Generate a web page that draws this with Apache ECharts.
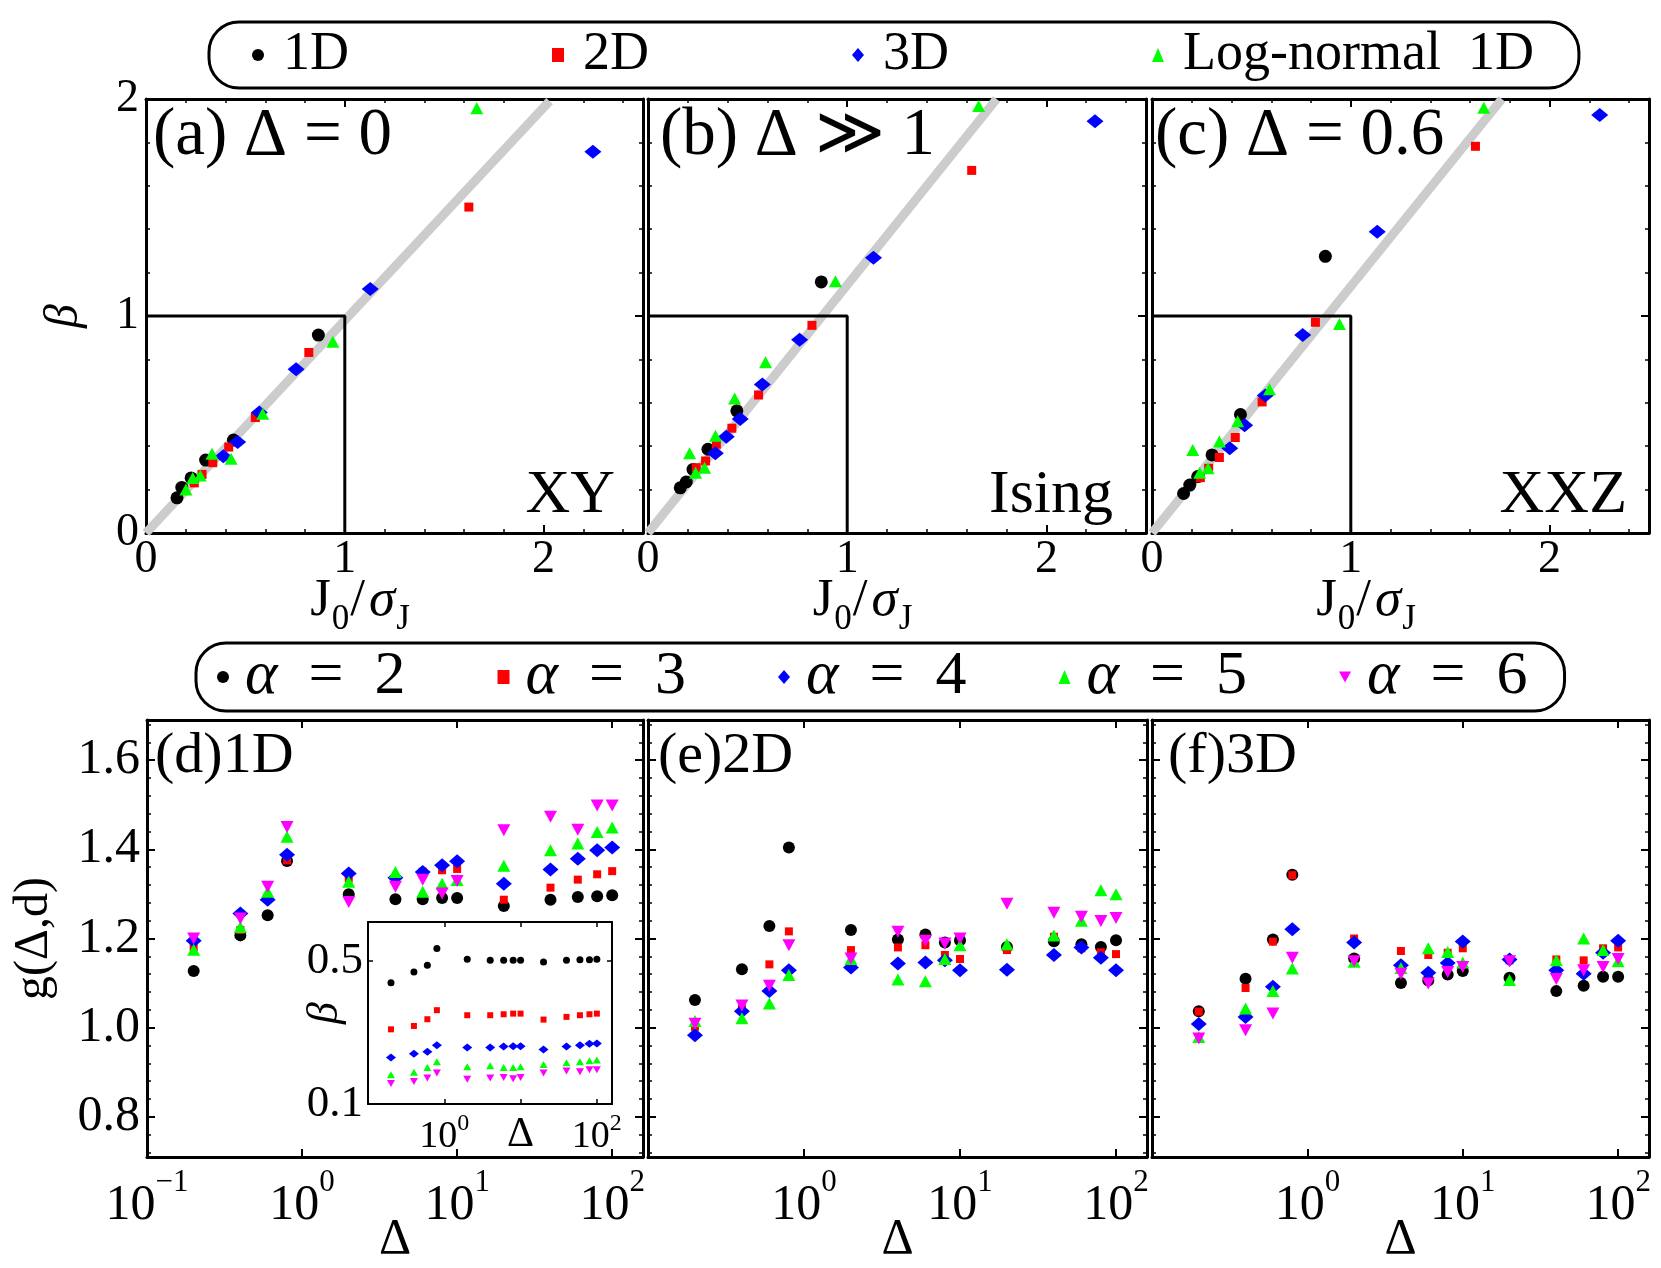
<!DOCTYPE html>
<html>
<head>
<meta charset="utf-8">
<script src="https://cdn.jsdelivr.net/npm/echarts@6/dist/echarts.min.js"></script>
<style>
  html, body { margin: 0; padding: 0; background: #fff; }
  #chart { width: 1661px; height: 1268px; }
</style>
</head>
<body>
<div id="chart"></div>
<script>
const SERIF = 'Liberation Serif, DejaVu Serif, serif';

// ---- top row: beta vs J0/sigma_J, [x, y]
const a1D = [[0.156,0.162],[0.18,0.21],[0.227,0.254],[0.30,0.336],[0.44,0.428],[0.867,0.912]];
const a2D = [[0.243,0.231],[0.282,0.27],[0.336,0.324],[0.416,0.396],[0.55,0.532],[0.819,0.832],[1.624,1.502]];
const a3D = [[0.389,0.354],[0.461,0.419],[0.570,0.555],[0.755,0.755],[1.128,1.125],[2.248,1.757]];
const aLN = [[0.201,0.2],[0.235,0.254],[0.273,0.265],[0.332,0.365],[0.428,0.342],[0.587,0.55],[0.94,0.881],[1.664,1.957]];

const b1D = [[0.162,0.208],[0.192,0.235],[0.226,0.293],[0.301,0.386],[0.446,0.563],[0.87,1.157]];
const b2D = [[0.242,0.301],[0.289,0.332],[0.343,0.409],[0.421,0.483],[0.555,0.636],[0.823,0.957],[1.625,1.671]];
const b3D = [[0.338,0.367],[0.393,0.443],[0.463,0.525],[0.574,0.684],[0.761,0.89],[1.132,1.269],[2.244,1.898]];
const bLN = [[0.209,0.367],[0.239,0.278],[0.284,0.301],[0.339,0.448],[0.435,0.62],[0.59,0.787],[0.941,1.16],[1.66,1.968]];

const c1D = [[0.159,0.182],[0.19,0.221],[0.23,0.26],[0.302,0.36],[0.445,0.546],[0.872,1.275]];
const c2D = [[0.243,0.255],[0.285,0.298],[0.339,0.348],[0.419,0.44],[0.554,0.604],[0.822,0.971],[1.627,1.782]];
const c3D = [[0.391,0.391],[0.466,0.496],[0.57,0.634],[0.758,0.913],[1.133,1.388],[2.252,1.926]];
const cLN = [[0.205,0.383],[0.24,0.278],[0.282,0.298],[0.339,0.422],[0.431,0.515],[0.591,0.662],[0.943,0.963],[1.669,1.96]];

// grey guide lines and the unit box
const diagA = [[0,0],[2.03,1.99]];
const diagB = [[0,0],[1.75,2]];
const diagC = [[0,0],[1.76,2]];
const unitBox = [[0,1],[1,1],[1,0]];

// ---- bottom row: g(Delta,d) for alpha = 2..6
const deltas = [0.2,0.4,0.6,0.8,2,4,6,8,10,20,40,60,80,100];

const d2 = [1.127,1.207,1.252,1.374,1.299,1.288,1.288,1.291,1.291,1.273,1.287,1.293,1.295,1.297];
const d3 = [1.181,1.219,1.29,1.375,1.335,1.33,1.35,1.353,1.356,1.287,1.314,1.332,1.344,1.351];
const d4 = [1.195,1.256,1.287,1.388,1.346,1.336,1.349,1.364,1.373,1.323,1.355,1.379,1.398,1.404];
const d5 = [1.175,1.226,1.305,1.428,1.327,1.349,1.305,1.323,1.331,1.363,1.398,1.413,1.439,1.449];
const d6 = [1.2,1.245,1.316,1.45,1.282,1.316,1.332,1.301,1.329,1.443,1.473,1.444,1.498,1.498];

const e2 = [1.062,1.131,1.228,1.404,1.219,1.198,1.209,1.191,1.196,1.181,1.194,1.187,1.181,1.196];
const e3 = [1.002,1.043,1.142,1.216,1.174,1.18,1.185,1.163,1.154,1.174,1.204,1.178,1.169,1.165];
const e4 = [0.983,1.037,1.082,1.129,1.135,1.144,1.146,1.151,1.129,1.13,1.163,1.18,1.157,1.129];
const e5 = [1.015,1.021,1.054,1.118,1.154,1.108,1.104,1.154,1.185,1.187,1.207,1.24,1.308,1.299];
const e6 = [1.009,1.05,1.094,1.185,1.155,1.215,1.195,1.189,1.2,1.278,1.258,1.249,1.239,1.246];

const f2 = [1.037,1.11,1.198,1.343,1.155,1.1,1.106,1.119,1.127,1.112,1.082,1.094,1.114,1.114];
const f3 = [1.036,1.089,1.193,1.342,1.2,1.172,1.163,1.168,1.178,1.151,1.153,1.151,1.178,1.18];
const f4 = [1.008,1.024,1.092,1.221,1.191,1.14,1.123,1.145,1.193,1.153,1.129,1.121,1.168,1.195];
const f5 = [0.979,1.043,1.082,1.133,1.148,1.134,1.178,1.17,1.146,1.107,1.151,1.2,1.174,1.149];
const f6 = [0.976,0.994,1.032,1.157,1.149,1.121,1.099,1.125,1.136,1.149,1.109,1.129,1.136,1.154];

// inset of (d): beta vs Delta, log scale
const in2 = [0.392,0.443,0.478,0.577,0.511,0.506,0.506,0.506,0.506,0.496,0.506,0.509,0.509,0.511];
const in3 = [0.232,0.241,0.260,0.288,0.272,0.272,0.275,0.277,0.277,0.259,0.267,0.272,0.275,0.277];
const in4 = [0.169,0.176,0.180,0.194,0.189,0.189,0.191,0.192,0.192,0.185,0.191,0.194,0.197,0.198];
const in5 = [0.139,0.143,0.151,0.161,0.152,0.154,0.151,0.151,0.152,0.156,0.159,0.161,0.163,0.164];
const in6 = [0.126,0.129,0.134,0.142,0.132,0.134,0.135,0.133,0.135,0.142,0.145,0.144,0.147,0.147];

const topNames = ['1D', '2D', '3D', 'Log-normal  1D'];
const alphaNames = ['α = 2', 'α = 3', 'α = 4', 'α = 5', 'α = 6'];
const xTicksTop = [0, 1, 2];

const DOWN = 'path://M0,0L10,0L5,9Z';
const topMarks = [
  { symbol: 'circle', size: 13, color: '#000000' },
  { symbol: 'rect', size: 9, color: '#ff0000' },
  { symbol: 'diamond', size: [17, 14], color: '#0000ff' },
  { symbol: 'triangle', size: [13, 12], color: '#00ff00' }
];
const lowMarks = [
  { symbol: 'circle', size: 12, color: '#000000' },
  { symbol: 'rect', size: 8, color: '#ff0000' },
  { symbol: 'diamond', size: [16, 14], color: '#0000ff' },
  { symbol: 'triangle', size: [13, 12], color: '#00ff00' },
  { symbol: DOWN, size: [13, 12], color: '#ff00ff' }
];
const insetMarks = [
  { symbol: 'circle', size: 7, color: '#000000' },
  { symbol: 'rect', size: 6, color: '#ff0000' },
  { symbol: 'diamond', size: [10, 8], color: '#0000ff' },
  { symbol: 'triangle', size: [8, 7], color: '#00ff00' },
  { symbol: DOWN, size: [8, 7], color: '#ff00ff' }
];

const grids = [
  { left: 146, top: 99, width: 497, height: 434 },
  { left: 648, top: 99, width: 498, height: 434 },
  { left: 1152, top: 99, width: 497, height: 434 },
  { left: 147, top: 720, width: 496, height: 437 },
  { left: 648, top: 720, width: 499, height: 437 },
  { left: 1152, top: 720, width: 497, height: 437 },
  { left: 368, top: 922, width: 244, height: 182, show: true, backgroundColor: '#fff', borderWidth: 0 }
].map(g => Object.assign({ outerBoundsMode: 'none', containLabel: false }, g));

function tick(len, w) {
  return { show: true, inside: true, length: len, lineStyle: { color: '#000', width: w } };
}
function minor(len) {
  return { show: true, splitNumber: 5, length: len, lineStyle: { color: '#000', width: 1.5 } };
}

const xAxes = [];
const yAxes = [];
// every panel is framed: bottom/top x axes and left/right y axes sharing one scale
function frame(gi, xBase, yBase, lw) {
  const line = { show: true, onZero: false, lineStyle: { color: '#000', width: lw } };
  const common = { gridIndex: gi, axisLine: line, splitLine: { show: false }, nameMoveOverlap: false };
  xAxes.push(Object.assign({ position: 'bottom' }, common, xBase));
  xAxes.push(Object.assign({ position: 'top' }, common, xBase, { axisLabel: { show: false }, name: '' }));
  yAxes.push(Object.assign({ position: 'left' }, common, yBase));
  yAxes.push(Object.assign({ position: 'right' }, common, yBase, { axisLabel: { show: false }, name: '' }));
}

const labelFont = { fontFamily: SERIF, color: '#000' };
const jRich = {
  n: { fontSize: 53, fontFamily: SERIF, color: '#000', lineHeight: 62, verticalAlign: 'top', padding: [0, 1, 0, 1] },
  i: { fontSize: 53, fontFamily: SERIF, fontStyle: 'italic', color: '#000', lineHeight: 62, verticalAlign: 'top', padding: [0, 1, 0, 3] },
  s: { fontSize: 35, fontFamily: SERIF, color: '#000', lineHeight: 40, verticalAlign: 'bottom' }
};
const powRich = {
  b: { fontSize: 50, fontFamily: SERIF, color: '#000', lineHeight: 64, verticalAlign: 'bottom' },
  s: { fontSize: 31, fontFamily: SERIF, color: '#000', lineHeight: 30, verticalAlign: 'top' }
};
const insetRich = {
  b: { fontSize: 38, fontFamily: SERIF, color: '#000', lineHeight: 44, verticalAlign: 'bottom' },
  s: { fontSize: 24, fontFamily: SERIF, color: '#000', lineHeight: 22, verticalAlign: 'top' },
  d: { fontSize: 42, fontFamily: SERIF, color: '#000', lineHeight: 44, verticalAlign: 'bottom' }
};

function powLabel(v, showMin) {
  const e = Math.log10(v);
  const r = Math.round(e);
  if (Math.abs(e - r) > 1e-3) return '';
  if (!showMin && r === -1) return '';
  return '{b|10}{s|' + (r < 0 ? '\u2212' + (-r) : r) + '}';
}

// top row
for (let p = 0; p < 3; p++) {
  frame(p, {
    type: 'value', min: 0, max: 2.5, interval: 1,
    axisTick: tick(8, 2), minorTick: minor(4),
    axisLabel: Object.assign({ show: true, margin: 4, fontSize: 46,
      formatter: v => xTicksTop.indexOf(Math.round(v * 1000) / 1000) >= 0 ? String(v) : '' }, labelFont),
    name: '{n|J}{s|0}{n|/}{i|σ}{s|J}', nameLocation: 'middle', nameGap: 42,
    nameTextStyle: { padding: [0, 70, 0, 0], rich: jRich }
  }, {
    type: 'value', min: 0, max: 2, interval: 1,
    axisTick: tick(8, 2), minorTick: minor(4),
    axisLabel: Object.assign({ show: p === 0, margin: 7, fontSize: 46 }, labelFont),
    name: p === 0 ? 'β' : '', nameLocation: 'middle', nameGap: 58,
    nameTextStyle: { fontSize: 48, fontStyle: 'italic', fontFamily: SERIF, color: '#000' }
  }, 3);
}
// bottom row
for (let p = 0; p < 3; p++) {
  const gi = p + 3;
  frame(gi, {
    type: 'log', logBase: 10, min: 0.1, max: 158,
    axisTick: tick(8, 2),
    axisLabel: { show: true, margin: 10, formatter: v => powLabel(v, p === 0), rich: powRich },
    name: 'Δ', nameLocation: 'middle', nameGap: 58,
    nameTextStyle: { fontSize: 50, fontFamily: SERIF, color: '#000' }
  }, {
    type: 'value', min: 0.71, max: 1.69, splitNumber: 5,
    axisTick: tick(8, 2), minorTick: minor(4),
    axisLabel: Object.assign({ show: p === 0, margin: 7, fontSize: 50,
      formatter: v => Math.abs(v * 5 - Math.round(v * 5)) < 1e-6 ? v.toFixed(1) : '' }, labelFont),
    name: p === 0 ? 'g(Δ,d)' : '', nameLocation: 'middle', nameGap: 89,
    nameTextStyle: { fontSize: 48, fontFamily: SERIF, color: '#000' }
  }, 3);
}
// inset: y axis is log10(beta / 0.1) on a linear scale so that 0.1 and 0.5 can be labelled
const LOG5 = Math.log10(5);
frame(6, {
  type: 'log', logBase: 10, min: 0.1, max: 158,
  axisTick: tick(5, 1.5),
  axisLabel: { show: true, margin: 8, rich: insetRich, formatter: v => {
    const e = Math.log10(v);
    if (Math.abs(e) < 1e-3) return '{b|10}{s|0}';
    if (Math.abs(e - 1) < 1e-3) return '{d|Δ}';
    if (Math.abs(e - 2) < 1e-3) return '{b|10}{s|2}';
    return '';
  } }
}, {
  type: 'value', min: 0, max: 0.891, interval: LOG5,
  axisTick: tick(5, 1.5),
  axisLabel: Object.assign({ show: true, margin: 5, fontSize: 45, formatter: v => {
    if (Math.abs(v) < 1e-6) return '0.1';
    if (Math.abs(v - LOG5) < 1e-3) return '0.5';
    return '';
  } }, labelFont),
  name: 'β', nameLocation: 'middle', nameGap: 21,
  nameTextStyle: { fontSize: 44, fontStyle: 'italic', fontFamily: SERIF, color: '#000' }
}, 2);

const series = [];
const topSets = [
  [a1D, a2D, a3D, aLN, diagA],
  [b1D, b2D, b3D, bLN, diagB],
  [c1D, c2D, c3D, cLN, diagC]
];
topSets.forEach((set, p) => {
  const ax = 2 * p;
  series.push({ type: 'line', xAxisIndex: ax, yAxisIndex: ax, data: set[4], symbol: 'none', silent: true,
    z: 1, lineStyle: { color: '#cccccc', width: 9 } });
  series.push({ type: 'line', xAxisIndex: ax, yAxisIndex: ax, data: unitBox, symbol: 'none', silent: true,
    z: 1, lineStyle: { color: '#000', width: 3 } });
  for (let k = 0; k < 4; k++) {
    series.push({ type: 'scatter', name: topNames[k], xAxisIndex: ax, yAxisIndex: ax, data: set[k],
      symbol: topMarks[k].symbol, symbolSize: topMarks[k].size, itemStyle: { color: topMarks[k].color, opacity: 1 }, z: 3 });
  }
});
const lowSets = [[d2, d3, d4, d5, d6], [e2, e3, e4, e5, e6], [f2, f3, f4, f5, f6]];
lowSets.forEach((set, p) => {
  const ax = 2 * (p + 3);
  set.forEach((vals, k) => {
    series.push({ type: 'scatter', name: alphaNames[k], xAxisIndex: ax, yAxisIndex: ax,
      data: deltas.map((d, i) => [d, vals[i]]),
      symbol: lowMarks[k].symbol, symbolSize: lowMarks[k].size, itemStyle: { color: lowMarks[k].color, opacity: 1 }, z: 3 });
  });
});
[in2, in3, in4, in5, in6].forEach((vals, k) => {
  series.push({ type: 'scatter', name: alphaNames[k], xAxisIndex: 12, yAxisIndex: 12,
    data: deltas.map((d, i) => [d, Math.log10(vals[i] / 0.1)]),
    symbol: insetMarks[k].symbol, symbolSize: insetMarks[k].size, itemStyle: { color: insetMarks[k].color, opacity: 1 }, z: 4 });
});

function txt(o) {
  const el = { type: 'text', z: 10, style: { text: o.text, fontSize: o.size, fontFamily: SERIF, fill: '#000' } };
  ['left', 'top', 'right'].forEach(k => { if (o[k] !== undefined) el[k] = o[k]; });
  return el;
}
const graphic = [
  txt({ text: '(a) Δ = 0', left: 153, top: 103, size: 67 }),
  txt({ text: '(b) Δ ≫ 1', left: 660, top: 103, size: 67 }),
  txt({ text: '(c) Δ = 0.6', left: 1155, top: 103, size: 67 }),
  txt({ text: 'XY', right: 1046, top: 465, size: 62 }),
  txt({ text: 'Ising', right: 548, top: 465, size: 62 }),
  txt({ text: 'XXZ', right: 34, top: 465, size: 62 }),
  txt({ text: '(d)1D', left: 155, top: 728, size: 58 }),
  txt({ text: '(e)2D', left: 658, top: 728, size: 58 }),
  txt({ text: '(f)3D', left: 1168, top: 728, size: 58 })
];

const legendBase = {
  orient: 'horizontal', selectedMode: false, itemWidth: 12, itemHeight: 14,
  borderColor: '#000', borderWidth: 3, borderRadius: 30, backgroundColor: '#fff'
};

const option = {
  animation: false,
  backgroundColor: '#fff',
  grid: grids,
  xAxis: xAxes,
  yAxis: yAxes,
  legend: [
    Object.assign({}, legendBase, {
      data: topNames, left: 209, top: 22, padding: [3, 45, 3, 43], itemGap: 203,
      textStyle: { fontSize: 54, fontFamily: SERIF, color: '#000', lineHeight: 60, padding: [0, 0, 0, 14] }
    }),
    Object.assign({}, legendBase, {
      data: alphaNames, left: 196, top: 643, padding: [3, 37, 3, 21], itemGap: 92,
      formatter: n => '{a|α}{t|  =  ' + n.slice(-1) + '}',
      textStyle: { fontSize: 62, fontFamily: SERIF, color: '#000', lineHeight: 62, width: 160, padding: [0, 0, 0, 11],
        rich: {
          a: { fontSize: 62, fontStyle: 'italic', fontFamily: SERIF, color: '#000', lineHeight: 62 },
          t: { fontSize: 62, fontFamily: SERIF, color: '#000', lineHeight: 62 }
        } }
    })
  ],
  graphic: graphic,
  series: series
};

const chart = echarts.init(document.getElementById('chart'));
chart.setOption(option);
</script>
</body>
</html>
